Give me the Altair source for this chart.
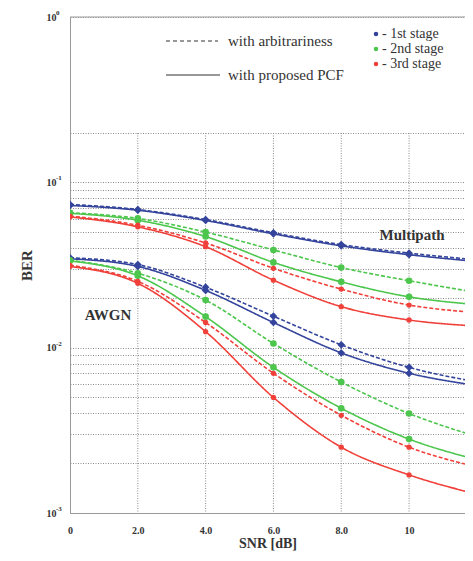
import altair as alt
import pandas as pd

snr = [0, 2, 4, 6, 8, 10, 12]

# Multipath channel
mp_blue_arb = [0.0735, 0.0685, 0.0595, 0.0495, 0.0420, 0.0373, 0.0340]
mp_blue_pcf = [0.0725, 0.0678, 0.0588, 0.0488, 0.0413, 0.0365, 0.0332]
mp_green_arb = [0.0655, 0.0605, 0.0500, 0.0390, 0.0305, 0.0254, 0.0216]
mp_green_pcf = [0.0650, 0.0590, 0.0470, 0.0328, 0.0250, 0.0203, 0.0182]
mp_red_arb = [0.0625, 0.0550, 0.0430, 0.0302, 0.0226, 0.0181, 0.0163]
mp_red_pcf = [0.0618, 0.0538, 0.0408, 0.0256, 0.0177, 0.0147, 0.0135]

# AWGN channel
aw_blue_arb = [0.0350, 0.0318, 0.0232, 0.0155, 0.0104, 0.0076, 0.0062]
aw_blue_pcf = [0.0345, 0.0310, 0.0222, 0.0142, 0.0093, 0.0070, 0.0059]
aw_green_arb = [0.0338, 0.0282, 0.0194, 0.0106, 0.0062, 0.0040, 0.0029]
aw_green_pcf = [0.0335, 0.0272, 0.0154, 0.0076, 0.0043, 0.0028, 0.0021]
aw_red_arb = [0.0315, 0.0252, 0.0142, 0.0070, 0.0039, 0.0025, 0.0019]
aw_red_pcf = [0.0310, 0.0245, 0.0125, 0.0050, 0.0025, 0.0017, 0.0013]

stages = ["1st stage", "2nd stage", "3rd stage"]
stage_colors = ["#34449c", "#4cc64c", "#f0403a"]
methods = ["with arbitrariness", "with proposed PCF"]

series = [
    ("Multipath", "1st stage", "with arbitrariness", mp_blue_arb),
    ("Multipath", "1st stage", "with proposed PCF", mp_blue_pcf),
    ("Multipath", "2nd stage", "with arbitrariness", mp_green_arb),
    ("Multipath", "2nd stage", "with proposed PCF", mp_green_pcf),
    ("Multipath", "3rd stage", "with arbitrariness", mp_red_arb),
    ("Multipath", "3rd stage", "with proposed PCF", mp_red_pcf),
    ("AWGN", "1st stage", "with arbitrariness", aw_blue_arb),
    ("AWGN", "1st stage", "with proposed PCF", aw_blue_pcf),
    ("AWGN", "2nd stage", "with arbitrariness", aw_green_arb),
    ("AWGN", "2nd stage", "with proposed PCF", aw_green_pcf),
    ("AWGN", "3rd stage", "with arbitrariness", aw_red_arb),
    ("AWGN", "3rd stage", "with proposed PCF", aw_red_pcf),
]

rows = []
for ch, st, me, vals in series:
    for x, v in zip(snr, vals):
        rows.append({"snr": x, "ber": v, "stage": st, "method": me,
                     "channel": ch, "curve": ch + st + me})
df = pd.DataFrame(rows)

x_ticks = [0, 2, 4, 6, 8, 10]
grid_x = [2, 4, 6, 8, 10]
y_grid_values = [0.001, 0.002, 0.003, 0.004, 0.005, 0.006, 0.007, 0.008, 0.009,
                 0.01, 0.02, 0.03, 0.04, 0.05, 0.06, 0.07, 0.08, 0.09,
                 0.1, 0.2, 1]
y_decades = [1, 0.1, 0.01, 0.001]
y_exponents = ["0", "-1", "-2", "-3"]

FONT = "Liberation Serif"
GRID = "#8c8c8c"
W, H = 395, 496
Y_AT_02 = 116  # pixel row of the 0.2 gridline, where the legend panel ends

xscale = alt.Scale(domain=[0, 11.65], nice=False, zero=False)
yscale = alt.Scale(type="log", domain=[0.001, 1], nice=False)

x_axis = alt.Axis(values=x_ticks, grid=False, ticks=False,
                  labelExpr="datum.value == 0 ? '0' : (datum.value >= 10 ? format(datum.value, 'd') : format(datum.value, '.1f'))",
                  labelFont=FONT, labelFontWeight="bold", labelFontSize=10, labelColor="#333",
                  labelPadding=12, domainColor="#999", title="SNR [dB]",
                  titleFont=FONT, titleFontWeight="bold", titleFontSize=14, titleColor="#333",
                  titlePadding=1, labelFlush=False)
y_axis = alt.Axis(values=y_grid_values, grid=True, ticks=False,
                  gridColor=GRID, gridDash=[1, 1.5], gridWidth=1,
                  labelExpr="indexof([1, 0.1, 0.01, 0.001], datum.value) >= 0 ? '10' : ''",
                  labelFont=FONT, labelFontWeight="bold", labelFontSize=10, labelColor="#333",
                  labelPadding=14, domainColor="#999", title="BER",
                  titleFont=FONT, titleFontWeight="bold", titleFontSize=15, titleColor="#333",
                  titlePadding=12, labelFlush=False, labelOverlap=False)

color_enc = alt.Color("stage:N", scale=alt.Scale(domain=stages, range=stage_colors), legend=None)

vgrid = alt.Chart(pd.DataFrame({"v": grid_x})).mark_rule(
    color=GRID, strokeDash=[1, 1.5], strokeWidth=1
).encode(x=alt.X("v:Q", scale=xscale, axis=x_axis), y=alt.value(Y_AT_02), y2=alt.value(H))

exps = alt.Chart(pd.DataFrame({"v": y_decades, "e": y_exponents})).mark_text(
    font=FONT, fontSize=7, fontWeight="bold", color="#333", align="left", baseline="middle", dy=-4
).encode(y=alt.Y("v:Q", scale=yscale, axis=y_axis), x=alt.value(-14), text="e:N")

lines = alt.Chart(df).mark_line(interpolate="monotone", strokeWidth=1.6, clip=True).encode(
    x=alt.X("snr:Q", scale=xscale, axis=x_axis),
    y=alt.Y("ber:Q", scale=yscale, axis=y_axis),
    color=color_enc,
    strokeDash=alt.StrokeDash("method:N", scale=alt.Scale(domain=methods, range=[[4, 2], [1, 0]]), legend=None),
    detail="curve:N",
)

points = alt.Chart(df).mark_point(filled=True, opacity=1, clip=True).encode(
    x=alt.X("snr:Q", scale=xscale, axis=x_axis),
    y=alt.Y("ber:Q", scale=yscale, axis=y_axis),
    color=color_enc,
    shape=alt.Shape("stage:N", scale=alt.Scale(domain=stages, range=["diamond", "circle", "circle"]), legend=None),
    size=alt.Size("stage:N", scale=alt.Scale(domain=stages, range=[60, 28, 28]), legend=None),
)

one = pd.DataFrame({"a": [0]})
top_border = alt.Chart(one).mark_rule(color="#999", strokeWidth=1).encode(
    x=alt.value(0), x2=alt.value(W), y=alt.value(0))


def label(text, x, y, size=14, bold=False, align="left"):
    return alt.Chart(pd.DataFrame({"t": [text]})).mark_text(
        font=FONT, fontSize=size, fontWeight="bold" if bold else "normal",
        color="#333", align=align, baseline="middle"
    ).encode(text="t:N", x=alt.value(x), y=alt.value(y))


layers = [vgrid, lines, points, exps, top_border]

# annotations
layers.append(label("Multipath", 342, 218, size=15, bold=True, align="center"))
layers.append(label("AWGN", 38, 298, size=15, bold=True, align="center"))

# legend: line styles
layers.append(alt.Chart(one).mark_rule(color="#333", strokeDash=[4, 3], strokeWidth=1.2).encode(
    x=alt.value(96), x2=alt.value(148), y=alt.value(24)))
layers.append(alt.Chart(one).mark_rule(color="#333", strokeWidth=1.2).encode(
    x=alt.value(96), x2=alt.value(150), y=alt.value(58)))
layers.append(label(methods[0], 158, 24, size=15))
layers.append(label(methods[1], 158, 58, size=15))

# legend: stage colours
for i, (st, col) in enumerate(zip(stages, stage_colors)):
    yy = 17 + 15 * i
    layers.append(alt.Chart(one).mark_circle(color=col, opacity=1, size=20).encode(
        x=alt.value(306), y=alt.value(yy)))
    layers.append(label("- " + st, 312, yy, size=14))

chart = alt.layer(*layers).properties(
    width=W, height=H,
    autosize=alt.AutoSizeParams(type="none"),
    padding={"left": 62, "top": 9, "right": 0, "bottom": 40},
).configure_view(stroke=None)

chart.save("out.html", embed_options={"renderer": "svg", "actions": False})
